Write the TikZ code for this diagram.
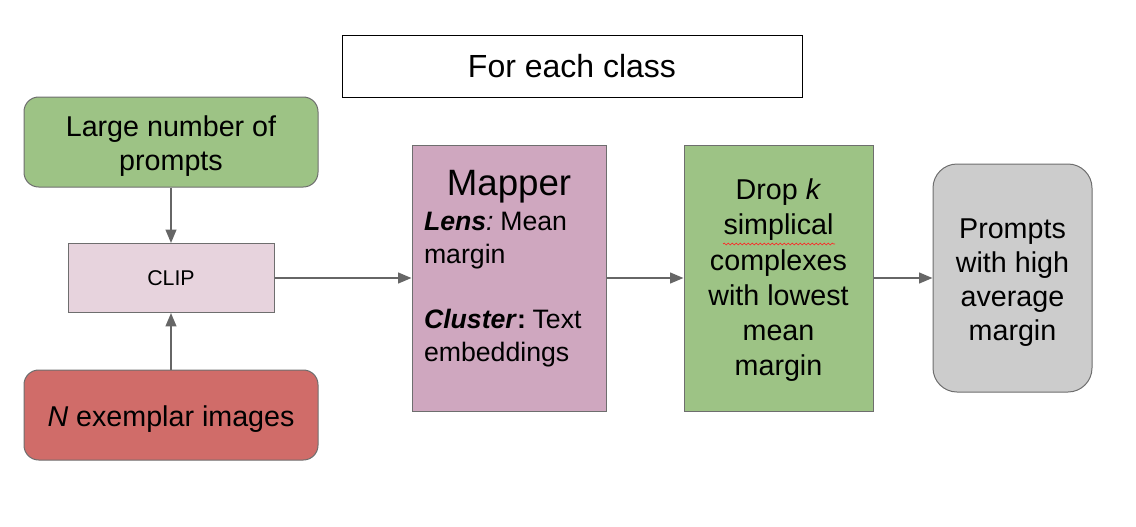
\documentclass[tikz,border=0pt]{standalone}
\usepackage{fontspec}
\setmainfont{Liberation Sans}
\usetikzlibrary{arrows.meta,decorations.pathmorphing}
\definecolor{leafgreen}{HTML}{9DC385}
\definecolor{brickred}{HTML}{D06C69}
\definecolor{mauve}{HTML}{CFA7BF}
\definecolor{palemauve}{HTML}{E7D3DD}
\definecolor{stone}{HTML}{CCCCCC}
\definecolor{edgegray}{HTML}{6E6E6E}
\definecolor{arrowgray}{HTML}{666666}
\newcommand{\lineup}[1][21pt]{\rule{0pt}{#1}}

\begin{document}
\begin{tikzpicture}[x=0.75pt,y=-0.75pt,
	box/.style={draw=edgegray, line width=0.75pt, align=center, inner sep=0pt,
		font=\fontsize{21.5}{25.5}\selectfont},
	flow/.style={draw=arrowgray, line width=1.5pt, -{Triangle[length=10pt,width=8pt]}}]
			\useasboundingbox (0,0) rectangle (1136,526);
			\node[box, draw=black, fill=white, minimum width=345pt, minimum height=46.5pt,
				font=\fontsize{24}{28}\selectfont] (classbox) at (572,66) {For each class};
			\node[box, fill=leafgreen, rounded corners=11pt, minimum width=220.5pt, minimum height=67.5pt]
				(prompts) at (171,142) {\lineup Large number of\\prompts};
			\node[box, fill=palemauve, minimum width=154.5pt, minimum height=51.75pt,
				font=\fontsize{16}{19}\selectfont] (clip) at (171,278) {CLIP};
			\node[box, fill=brickred, rounded corners=11pt, minimum width=220.5pt, minimum height=67.5pt]
				(exemplars) at (171,415) {\lineup\textit{N} exemplar images};
			\node[box, fill=mauve, minimum width=145.5pt, minimum height=199.5pt] (mapper) at (509,278) {};
			\node[anchor=north, inner sep=0pt, text width=127.5pt] (mappertext) at ([yshift=-19pt]mapper.north) {%
				\centering{\fontsize{27.5}{33}\selectfont Mapper\par}\vspace{1.5pt}
				\raggedright\fontsize{20}{24.75}\selectfont
				\textbf{\textit{Lens}}\textit{:} Mean\\margin\\[24pt]
				\textbf{\textit{Cluster}:} Text\\embeddings\par};
			\node[box, fill=leafgreen, minimum width=141.75pt, minimum height=199.5pt,
				font=\fontsize{21.5}{26.4}\selectfont] (drop) at (778.5,278)
				{\lineup[19pt]Drop \textit{k}\\simplical\\complexes\\with lowest\\mean\\margin};
			\node[box, fill=stone, rounded corners=18pt, minimum width=119.25pt, minimum height=171pt]
				(highmargin) at (1012.5,278) {\lineup Prompts\\with high\\average\\margin};
			\draw[red!85!white, line width=0.5pt, decorate,
				decoration={snake, amplitude=0.7pt, segment length=3pt}] (723,244) -- (835,244);
			
			\draw[flow] (prompts.south) -- (clip.north);
			\draw[flow] (exemplars.north) -- (clip.south);
			\foreach \a/\b in {clip/mapper, mapper/drop, drop/highmargin}
			\draw[flow] (\a.east) -- (\b.west);
		\end{tikzpicture}
\end{document}
